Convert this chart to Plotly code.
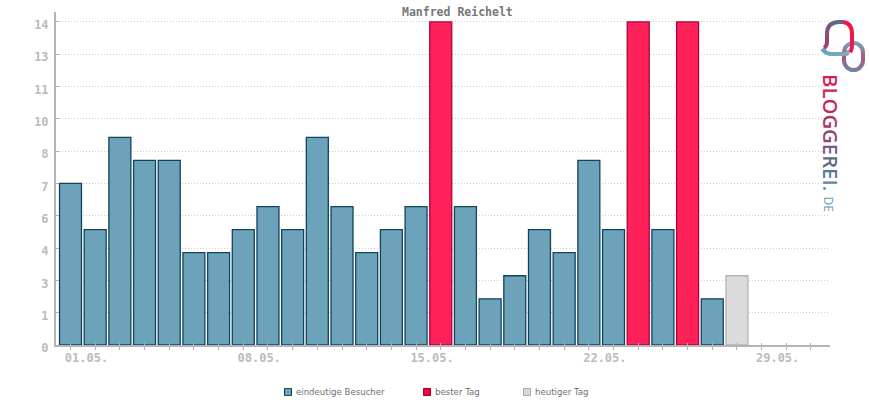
import base64
import plotly.graph_objects as go

# ---- data ----
days = list(range(1, 29))
visitors = [7, 5, 9, 8, 8, 4, 4, 5, 6, 5, 9, 6, 4, 5, 6, 14, 6, 2, 3, 5, 4, 8, 5, 14, 5, 14, 2, 3]
today = [28]
all_days = list(range(1, 32))
x_tick_labels = ["01.05.", "", "", "", "", "", "", "08.05.", "", "", "", "", "", "", "15.05.", "", "", "", "", "", "",
                 "22.05.", "", "", "", "", "", "", "29.05.", "", ""]
y_tick_vals = [0, 1.4, 2.8, 4.2, 5.6, 7, 8.4, 9.8, 11.2, 12.6, 14]
y_tick_labels = ["0", "1", "3", "4", "6", "7", "8", "10", "11", "13", "14"]
series_names = ["eindeutige Besucher", "bester Tag", "heutiger Tag"]

W, H = 870, 400
L, R, T, B = 56, 830, 12, 345
def px(x): return (x - L) / (R - L)
def py(y): return (B - y) / (B - T)

best = max(visitors)
groups = [
    ([d for d, v in zip(days, visitors) if v != best and d not in today],
     [v for d, v in zip(days, visitors) if v != best and d not in today], "#6ca3bb", "#12435b"),
    ([d for d, v in zip(days, visitors) if v == best],
     [v for v in visitors if v == best], "#ff2159", "#b0003c"),
    ([d for d, v in zip(days, visitors) if d in today],
     [v for d, v in zip(days, visitors) if d in today], "#dbdbdb", "#b4b4b4"),
]

fig = go.Figure()
for name, (gx, gy, fill, line) in zip(series_names, groups):
    fig.add_trace(go.Bar(x=gx, y=gy, name=name, width=0.89, showlegend=False,
                         marker=dict(color=fill, line=dict(color=line, width=1.3))))

mono = "DejaVu Sans Mono"
fig.update_layout(
    width=W, height=H, autosize=False, barmode="overlay", plot_bgcolor="white", paper_bgcolor="white",
    margin=dict(l=L, r=W - R, t=T, b=H - B),
    xaxis=dict(range=[0.4125, 31.77], tickmode="array", tickvals=all_days, ticktext=x_tick_labels,
               ticks="outside", ticklen=3, tickwidth=1, tickcolor="#b4b4b4", ticklabelshift=16, ticklabelstandoff=-2,
               minor=dict(ticks="inside", ticklen=2, tickwidth=1, tickcolor="#b4b4b4", tick0=1, dtick=1, showgrid=False),
               showgrid=False, showline=True, linecolor="#b4b4b4", linewidth=2, zeroline=False,
               tickangle=0, tickfont=dict(family=mono, size=12, color="#bbbbbb", weight="bold")),
    yaxis=dict(range=[0, 14.43], tickmode="array", tickvals=y_tick_vals, ticktext=y_tick_labels,
               ticks="inside", ticklen=3, tickwidth=1, tickcolor="#b4b4b4", ticklabelshift=3, ticklabelstandoff=3,
               showgrid=True, gridcolor="#cccccc", griddash="1px,2px", gridwidth=1,
               showline=True, linecolor="#b4b4b4", linewidth=2, zeroline=False,
               tickfont=dict(family=mono, size=12, color="#bbbbbb", weight="bold")),
)

ann = [dict(text="Manfred Reichelt", xref="paper", yref="paper", x=px(457), y=py(12), showarrow=False,
            xanchor="center", yanchor="middle",
            font=dict(family=mono, size=11.5, color="#777777", weight="bold"))]
shapes = []
legend_pos = [(284.5, 295.5), (423.5, 434.5), (523.5, 534.5)]
legend_style = [("#6ca3bb", "#12435b"), ("#f5003f", "#a0002c"), ("#d8d8d8", "#a8a8a8")]
for name, (sx, tx), (fill, line) in zip(series_names, legend_pos, legend_style):
    shapes.append(dict(type="rect", xref="paper", yref="paper", x0=px(sx), x1=px(sx + 7), y0=py(388.5), y1=py(395.5),
                       fillcolor=fill, line=dict(color=line, width=1)))
    ann.append(dict(text=name, xref="paper", yref="paper", x=px(tx), y=py(392), xanchor="left", yanchor="middle",
                    showarrow=False, xshift=-2,
                    font=dict(family="DejaVu Sans", size=8.6, color="#707070")))

# logo wordmark, rotated
letters = [("B", "#d81e52"), ("L", "#d0225a"), ("O", "#c22a5e"), ("G", "#a83a6a"), ("G", "#8f4a74"),
           ("E", "#6f5a80"), ("R", "#5f6a8a"), ("E", "#557a98"), ("I", "#5a8aa5"), (".", "#6090a8")]
word = "".join(f'<span style="color:{c}">{t}</span>' for t, c in letters)
ann.append(dict(text=word, xref="paper", yref="paper", x=px(831.5), y=py(132.5), showarrow=False, textangle=90,
                xanchor="center", yanchor="middle",
                font=dict(family="Open Sans", size=20.3, weight=600)))
ann.append(dict(text="DE", xref="paper", yref="paper", x=px(828), y=py(203.5), showarrow=False, textangle=90,
                xanchor="center", yanchor="middle",
                font=dict(family="Open Sans", size=12, color="#5fa0bd")))
fig.update_layout(annotations=ann, shapes=shapes)

# logo icon
svg = '''<svg xmlns="http://www.w3.org/2000/svg" viewBox="815 15 55 65" width="55" height="65">
<defs>
<linearGradient id="a" gradientUnits="userSpaceOnUse" x1="846" y1="22" x2="824" y2="48">
<stop offset="0" stop-color="#4f7290"/><stop offset="1" stop-color="#a63a6c"/></linearGradient>
<linearGradient id="b" gradientUnits="userSpaceOnUse" x1="822" y1="50" x2="846" y2="54">
<stop offset="0" stop-color="#5fa3bc"/><stop offset="1" stop-color="#86a8ba"/></linearGradient>
<linearGradient id="c" gradientUnits="userSpaceOnUse" x1="850" y1="42" x2="850" y2="72">
<stop offset="0" stop-color="#6fa8be"/><stop offset="0.5" stop-color="#a9577f"/><stop offset="1" stop-color="#6f88a0"/></linearGradient>
</defs>
<g fill="none" stroke-width="4">
<rect x="844" y="43" width="19" height="27" rx="9.5" stroke="url(#c)"/>
<path d="M822 49 Q826 54 832 54 L846 54 Q848 54 848 50" stroke="url(#b)"/>
<path d="M824 48 Q827 46 827 42 L827 34 Q827 22 839 22 L843 22" stroke="url(#a)"/>
<path d="M843 22 Q852 23 852 34 L852 44 Q852 50 850 52" stroke="#f0174c"/>
</g></svg>'''
uri = "data:image/svg+xml;base64," + base64.b64encode(svg.encode()).decode()
fig.add_layout_image(dict(source=uri, xref="paper", yref="paper", x=px(815), y=py(15), sizex=55 / (R - L), sizey=65 / (B - T),
                          xanchor="left", yanchor="top", sizing="stretch", layer="above"))

fig.write_html("out.html", config={"displayModeBar": False},
               post_script="document.body.style.margin='0';document.body.style.overflow='hidden';")
